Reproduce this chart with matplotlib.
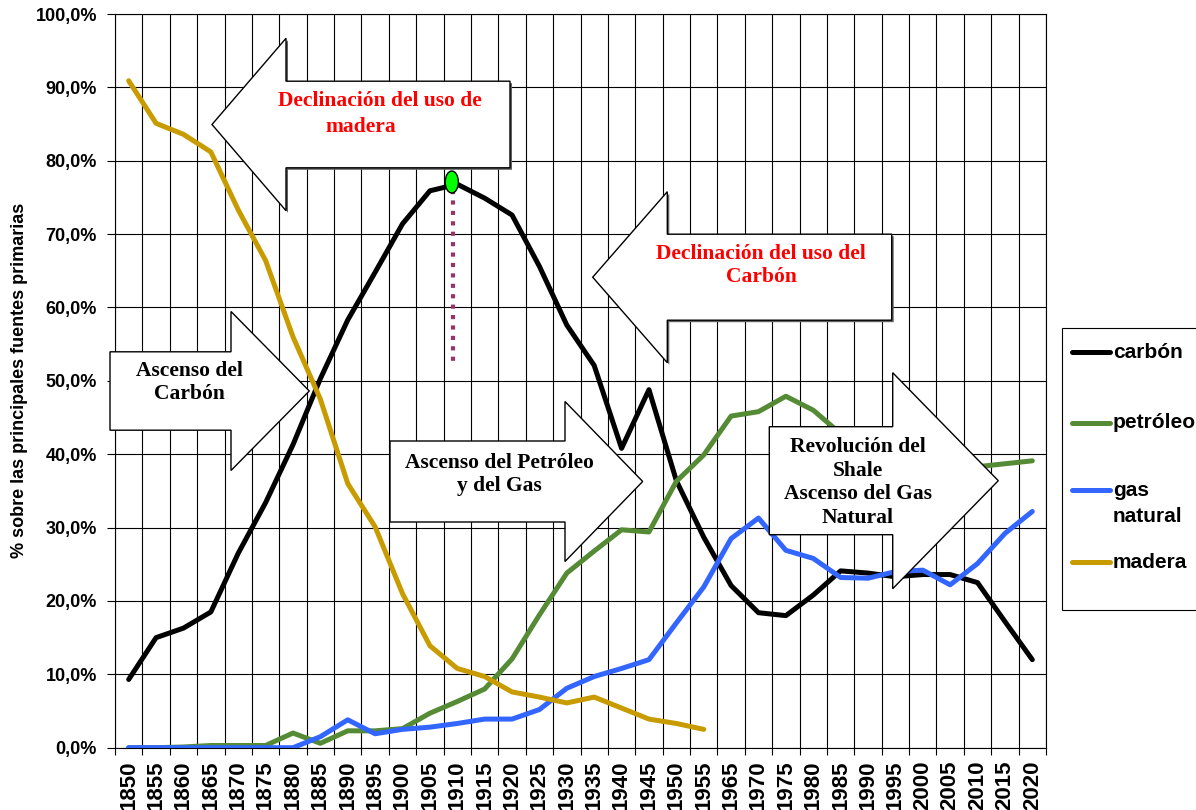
import numpy as np
import matplotlib
matplotlib.use("Agg")
import matplotlib.pyplot as plt
from matplotlib.patches import Polygon, Ellipse, Rectangle
from matplotlib.lines import Line2D
from matplotlib.ticker import FixedLocator, FuncFormatter

plt.rcParams["font.family"] = ["Liberation Sans", "DejaVu Sans"]

# Participación de cada fuente en el total (%)
years = ["1850", "1855", "1860", "1865", "1870", "1875", "1880", "1885", "1890",
         "1895", "1900", "1905", "1910", "1915", "1920", "1925", "1930", "1935",
         "1940", "1945", "1950", "1955", "1965", "1970", "1975", "1980", "1985",
         "1990", "1995", "2000", "2005", "2010", "2015", "2020"]

carbon = [9.3, 15.0, 16.3, 18.5, 26.5, 33.4, 41.3, 50.3, 58.3, 64.8, 71.4, 75.9,
          76.8, 74.9, 72.6, 65.6, 57.6, 52.1, 40.8, 48.8, 36.4, 28.7,
          22.1, 18.4, 18.0, 20.8, 24.1, 23.8, 23.3, 23.6, 23.6, 22.5, 17.2, 12.0]

petroleo = [0.0, 0.0, 0.1, 0.3, 0.3, 0.3, 2.0, 0.6, 2.3, 2.3, 2.6, 4.7,
            6.3, 8.0, 12.1, 18.1, 23.8, 26.8, 29.7, 29.4, 36.3, 39.9,
            45.2, 45.8, 47.9, 46.0, 42.8, 41.0, 40.0, 39.0, 38.5, 38.3, 38.7, 39.1]

gas = [0.0, 0.0, 0.0, 0.0, 0.0, 0.0, 0.0, 1.5, 3.8, 1.9, 2.5, 2.8,
       3.3, 3.9, 3.9, 5.2, 8.1, 9.7, 10.8, 12.0, 17.0, 21.9,
       28.5, 31.3, 26.9, 25.8, 23.2, 23.1, 24.0, 24.2, 22.2, 25.1, 29.2, 32.2]

madera = [90.9, 85.1, 83.6, 81.2, 73.3, 66.4, 56.0, 47.5, 36.0, 30.1, 21.0, 13.9,
          10.8, 9.7, 7.6, 6.9, 6.1, 6.9, 5.4, 3.9, 3.3, 2.5]

series = [("carbón", carbon, "#000000"),
          ("petróleo", petroleo, "#558B35"),
          ("gas\nnatural", gas, "#3366FF"),
          ("madera", madera, "#C89B00")]

W, H = 1196, 810
AX_L, AX_R, AX_T, AX_B = 115, 1046, 14, 747.7

fig = plt.figure(figsize=(W / 100, H / 100), dpi=100)
ax = fig.add_axes([AX_L / W, (H - AX_B) / H, (AX_R - AX_L) / W, (AX_B - AX_T) / H])


def px(x, y):
    # pixeles de la figura -> fracción de ejes
    return ((x - AX_L) / (AX_R - AX_L), (AX_B - y) / (AX_B - AX_T))


def fpx(x, y):
    # pixeles -> fracción de figura
    return (x / W, 1 - y / H)


x = np.arange(len(years))

# grilla
for k in range(len(years) + 1):
    ax.axvline(k - 0.5, color="black", lw=0.8, zorder=1)
for v in range(0, 101, 10):
    ax.axhline(v, color="black", lw=0.8, zorder=1)

for name, vals, col in series:
    ax.plot(x[:len(vals)], vals, color=col, lw=3.6,
            solid_capstyle="round", solid_joinstyle="round", zorder=3)

ax.set_xlim(-0.5, len(years) - 0.5)
ax.set_ylim(0, 100)
ax.set_xticks(x)
ax.set_xticklabels(years, rotation=90, fontsize=16, fontweight="bold")
ax.xaxis.set_minor_locator(FixedLocator(np.arange(len(years) + 1) - 0.5))
ax.tick_params(axis="x", which="major", length=0, pad=9)
ax.tick_params(axis="x", which="minor", length=5, width=0.8, direction="out")
ax.set_yticks(range(0, 101, 10))
ax.yaxis.set_major_formatter(FuncFormatter(lambda v, p: f"{v:.1f}%".replace(".", ",")))
ax.tick_params(axis="y", length=6, width=0.8, pad=7, labelsize=13)
for t in ax.get_yticklabels():
    t.set_fontweight("bold")
ax.set_ylabel("% sobre las principales fuentes primarias", fontsize=13, fontweight="bold")
ax.yaxis.set_label_coords(-0.093, 0.5)
for s in ax.spines.values():
    s.set_color("black")
    s.set_linewidth(0.8)

# máximo del carbón
i_pk = int(np.argmax(carbon))
ax.plot([i_pk - 0.16, i_pk - 0.16], [carbon[i_pk] - 0.8, 52.5], color="#993366", lw=3,
        linestyle=(0, (1, 1.5)), dash_capstyle="butt", zorder=4)
ax.add_patch(Ellipse((i_pk - 0.2, carbon[i_pk] + 0.3), 0.48, 3.0, facecolor="#00FF00",
                     edgecolor="black", lw=1, zorder=6))


def block_arrow(tip_x, neck_x, end_x, yc, shaft, head):
    return [(tip_x, yc), (neck_x, yc - head), (neck_x, yc - shaft), (end_x, yc - shaft),
            (end_x, yc + shaft), (neck_x, yc + shaft), (neck_x, yc + head)]


arrows = [
    (block_arrow(212, 286, 510, 124.5, 43.3, 86.2), True),
    (block_arrow(592.7, 667.3, 891.7, 277.2, 43, 85.5), True),
    (block_arrow(309.3, 231, 110, 391, 39.2, 79.5), False),
    (block_arrow(642.7, 565, 390, 481.5, 40.5, 80), False),
    (block_arrow(998.3, 892.7, 769.3, 480.7, 54, 108), False),
]
for pts, shadow in arrows:
    if shadow:
        sh = [px(a + 2, b + 2) for a, b in pts]
        ax.add_patch(Polygon(sh, closed=True, facecolor="#606060", edgecolor="none",
                             transform=ax.transAxes, clip_on=False, zorder=4.9))
    ax.add_patch(Polygon([px(a, b) for a, b in pts], closed=True, facecolor="white",
                         edgecolor="black", lw=1, transform=ax.transAxes,
                         clip_on=False, zorder=5))

serif = dict(family="Liberation Serif", fontweight="bold", fontsize=15.5, linespacing=1.25,
             ha="center", va="center", transform=ax.transAxes, zorder=7)
ax.text(*px(380, 101), "Declinación del uso de", color="red", **serif)
ax.text(*px(361, 127), "madera", color="red", **serif)
ax.text(*px(761, 265.5), "Declinación del uso del\nCarbón", color="red", **serif)
ax.text(*px(189.5, 382.5), "Ascenso del\nCarbón", color="black", **serif)
ax.text(*px(499, 474.5), "Ascenso del Petróleo\ny del Gas", color="black", **serif)
ax.text(*px(858, 482.5), "Revolución del\nShale\nAscenso del Gas\nNatural", color="black", **serif)

# leyenda
fig.patches.append(Rectangle(fpx(1062, 610), 200 / W, 282 / H, transform=fig.transFigure,
                             facecolor="white", edgecolor="black", lw=0.8))
leg_y = [352, 423, 490, 562]
for (name, vals, col), y0 in zip(series, leg_y):
    fig.lines.append(Line2D([1072 / W, 1110 / W], [1 - y0 / H] * 2, color=col, lw=3.6,
                            solid_capstyle="round", transform=fig.transFigure))
    for j, part in enumerate(name.split("\n")):
        fig.text(*fpx(1113, y0 + 27 * j), part, fontsize=15, fontweight="bold",
                 ha="left", va="center")

fig.savefig("out.png", dpi=100)
